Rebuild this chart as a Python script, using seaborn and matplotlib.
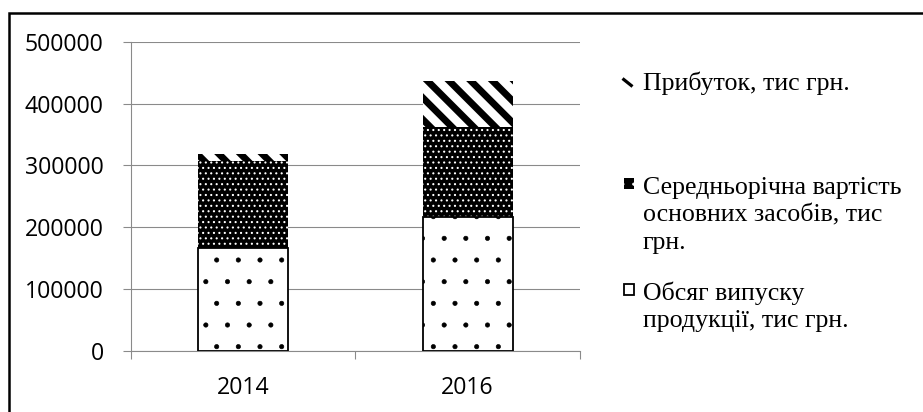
import matplotlib
matplotlib.use('Agg')
import matplotlib as mpl
import matplotlib.pyplot as plt
import seaborn as sns
import pandas as pd
import numpy as np
from matplotlib.patches import Rectangle
from matplotlib.lines import Line2D

# ---- data ----
years = ['2014', '2016']
output_volume = [167000, 217000]      # Обсяг випуску продукції
fixed_assets = [140000, 145500]       # Середньорічна вартість основних засобів
profit = [11500, 74500]               # Прибуток
yticks = [0, 100000, 200000, 300000, 400000, 500000]
label_profit = ['Прибуток, тис грн.']
label_assets = ['Середньорічна вартість', 'основних засобів, тис', 'грн.']
label_output = ['Обсяг випуску', 'продукції, тис грн.']

W, H, DPI = 923, 412, 130
PT = 72.0 / DPI  # points per pixel

sns.set_theme(style='white')
plt.rcParams['font.family'] = ['Open Sans', 'DejaVu Sans']

low = np.array(output_volume)
mid = low + np.array(fixed_assets)
top = mid + np.array(profit)
df = pd.DataFrame({'year': years, 'low': low, 'mid': mid, 'top': top})

fig = plt.figure(figsize=(W / DPI, H / DPI), dpi=DPI)
fig.patch.set_facecolor('white')
ax = fig.add_axes([130.5 / W, 1 - 351 / H, (580 - 130.5) / W, (351 - 41.7) / H])


def draw(col, face, edge, lw, hatch, hlw):
    with mpl.rc_context({'hatch.linewidth': hlw, 'hatch.color': edge}):
        before = len(ax.patches)
        sns.barplot(data=df, x='year', y=col, width=0.4, color=face, saturation=1,
                    edgecolor=edge, linewidth=lw, hatch=hatch, ax=ax, zorder=3)
        for p in ax.patches[before:]:
            if hasattr(p, 'set_hatch_linewidth'):
                p.set_hatch_linewidth(hlw)


draw('top', 'white', 'black', 0, '\\\\', 3.8)
draw('mid', 'black', 'white', 0, '....', 0.6)
draw('low', 'white', 'black', 1.0, '.', 0.35)

grid_c = '#8a8a8a'
ax.set_xlim(-0.5, 1.5)
ax.set_ylim(0, 500000)
ax.set_yticks(yticks)
ax.set_yticklabels([str(v) for v in yticks])
ax.yaxis.grid(True, color=grid_c, linewidth=1.1 * PT)
ax.set_axisbelow(True)
for s in ['top', 'right']:
    ax.spines[s].set_visible(False)
for s in ['left', 'bottom']:
    ax.spines[s].set_color(grid_c)
    ax.spines[s].set_linewidth(1.1 * PT)
ax.set_xlabel('')
ax.set_ylabel('')
ax.tick_params(axis='y', which='major', length=8 * PT, width=1.1 * PT, color=grid_c,
               direction='out', left=True, pad=19 * PT, labelsize=12.8, labelcolor='black')
ax.set_xticks([-0.5, 0.5, 1.5], minor=True)
ax.tick_params(axis='x', which='minor', length=8 * PT, width=1.1 * PT, color=grid_c,
               direction='out', bottom=True)
ax.tick_params(axis='x', which='major', length=0, pad=25 * PT, labelsize=12.8, labelcolor='black')

# ---- legend (manual, Excel-like) ----
serif = ['Liberation Serif', 'DejaVu Serif']
fs = 14.3
LS = 27.5
entries = [
    (label_profit, 90, None),
    (label_assets, 194, ('black', 'white', 0, '..', 0.5)),
    (label_output, 300, ('white', 'black', 1.0, '.', 0.35)),
]
for lines, base, style in entries:
    for i, line in enumerate(lines):
        fig.text(643 / W, 1 - (base + i * LS) / H, line, ha='left', va='baseline',
                 fontsize=fs, family=serif, color='black')
    if style is None:
        # diagonal stripe sample
        fig.add_artist(Line2D([622.5 / W, 632.5 / W], [1 - 78.5 / H, 1 - 86.5 / H],
                              transform=fig.transFigure, color='black',
                              linewidth=3.2 * PT, solid_capstyle='butt'))
        continue
    face, edge, lw, hatch, hlw = style
    with mpl.rc_context({'hatch.linewidth': hlw}):
        r = Rectangle((623.5 / W, 1 - (base - 5) / H), 10.7 / W, 10.7 / H,
                      transform=fig.transFigure, facecolor=face, edgecolor=edge,
                      linewidth=lw, hatch=hatch)
        if hasattr(r, 'set_hatch_linewidth'):
            r.set_hatch_linewidth(hlw)
    fig.patches.append(r)

# ---- outer frame (top and left edges visible) ----
fig.add_artist(Line2D([8.5 / W, 8.5 / W, 1.0], [0.0, 1 - 12.5 / H, 1 - 12.5 / H],
                      transform=fig.transFigure, color='black', linewidth=2.5 * PT,
                      solid_joinstyle='miter'))

fig.savefig('out.png', dpi=DPI, facecolor='white')
